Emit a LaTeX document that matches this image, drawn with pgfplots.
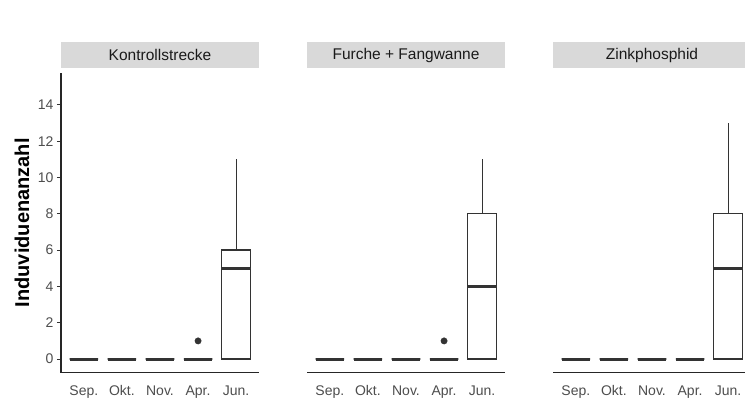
\documentclass[border=0pt]{standalone}
\usepackage{pgfplots}
\pgfplotsset{compat=1.18}
\usepgfplotslibrary{statistics}
\usetikzlibrary{calc}
\usepackage{fontspec}
\setmainfont{Liberation Sans}

\definecolor{grey10}{HTML}{1A1A1A}
\definecolor{grey20}{HTML}{333333}
\definecolor{grey30}{HTML}{4D4D4D}
\definecolor{grey85}{HTML}{D9D9D9}

\pgfplotsset{
  facet/.style={
    scale only axis, width=198bp, height=299.7bp,
    anchor=south west,
    xmin=0.4, xmax=5.6, ymin=-0.75, ymax=15.75,
    axis x line=bottom,
    axis line style={-, draw=black!85, line width=1.3bp},
    xtick={1,2,3,4,5},
    xticklabels={Sep.,Okt.,Nov.,Apr.,Jun.},
    x tick style={draw=none},
    ytick={0,2,...,14},
    tick align=outside,
    major tick length=4bp,
    y tick style={draw=black!80, line width=1bp},
    tick label style={font=\fontsize{14bp}{16bp}\selectfont, text=grey30},
    xticklabel style={text height=10bp, text depth=3bp, yshift=-5bp},
    /pgf/number format/assume math mode=true,
    clip=false,
  },
  box/.style={
    draw=grey20, line width=1.2bp, fill=white, solid, mark=none,
    boxplot/draw direction=y,
    boxplot/box extend=0.75,
    boxplot/whisker extend=0,
    boxplot/every median/.style={line width=3bp},
  },
  outlier/.style={only marks, mark=*, mark size=3.2bp, draw=grey20, fill=grey20},
}

% a month with no individuals at all
\newcommand{\zerobox}[1]{%
  \addplot[box, boxplot prepared={draw position=#1, lower whisker=0,
    lower quartile=0, median=0, upper quartile=0, upper whisker=0}]
    coordinates {};}

% facet strip above a panel
\newcommand{\strip}[2]{%
  \fill[grey85] ([yshift=5bp]#1.north west) rectangle ([yshift=31bp]#1.north east);
  \node[font=\fontsize{15.5bp}{18bp}\selectfont, text=grey10]
    at ($([yshift=18bp]#1.north west)!0.5!([yshift=18bp]#1.north east)$) {#2};}

\begin{document}
\begin{tikzpicture}
\useasboundingbox (0,0) rectangle (745bp,399bp);

% Kontrollstrecke
\begin{axis}[axis y line=left, facet, name=p1, at={(61bp,26.3bp)},
    ylabel={Induviduenanzahl},
    every axis y label/.append style={at={(axis description cs:-0.197,0.5)}, anchor=center},
    ylabel style={font=\bfseries\fontsize{20bp}{24bp}\selectfont, text=black}]
  \zerobox{1}\zerobox{2}\zerobox{3}\zerobox{4}
  \addplot[box, boxplot prepared={draw position=5, lower whisker=0,
    lower quartile=0, median=5, upper quartile=6, upper whisker=11}] coordinates {};
  \addplot[outlier] coordinates {(4,1)};
\end{axis}
\strip{p1}{Kontrollstrecke}

% Furche + Fangwanne
\begin{axis}[axis y line=none, facet, name=p2, at={(307bp,26.3bp)}]
  \zerobox{1}\zerobox{2}\zerobox{3}\zerobox{4}
  \addplot[box, boxplot prepared={draw position=5, lower whisker=0,
    lower quartile=0, median=4, upper quartile=8, upper whisker=11}] coordinates {};
  \addplot[outlier] coordinates {(4,1)};
\end{axis}
\strip{p2}{Furche + Fangwanne}

% Zinkphosphid
\begin{axis}[axis y line=none, facet, name=p3, at={(553bp,26.3bp)}]
  \zerobox{1}\zerobox{2}\zerobox{3}\zerobox{4}
  \addplot[box, boxplot prepared={draw position=5, lower whisker=0,
    lower quartile=0, median=5, upper quartile=8, upper whisker=13}] coordinates {};
\end{axis}
\strip{p3}{Zinkphosphid}
\end{tikzpicture}
\end{document}
